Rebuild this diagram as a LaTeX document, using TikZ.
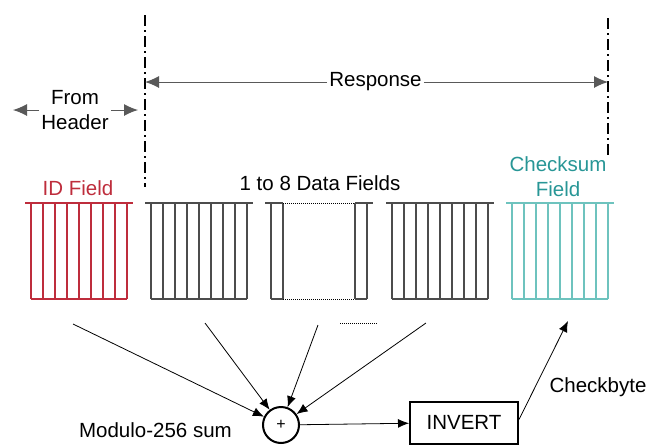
\documentclass[tikz,border=0pt]{standalone}
\usepackage{fontspec}
\setmainfont{Liberation Sans}
\usetikzlibrary{positioning,arrows.meta}
\definecolor{idred}{RGB}{190,45,60}
\definecolor{cktext}{RGB}{40,150,150}
\definecolor{ckline}{RGB}{110,195,190}
\tikzset{
  flowarrow/.style={-{Latex[length=11pt,width=9pt]}, line width=0.8pt},
  spanarrow/.style={-{Latex[length=14pt,width=12pt]}, line width=1pt, draw=black!65},
  boundary/.style={line width=2pt, dash pattern=on 11pt off 4pt on 2pt off 4pt},
  txt/.style={font=\fontsize{20.5}{25}\selectfont, inner sep=2pt, align=center},
  bitline/.style={line width=1.2pt},
  gapline/.style={line width=0.8pt, dash pattern=on 1pt off 1pt},
  sumnode/.style={draw, circle, line width=2pt, minimum size=36pt, inner sep=0pt, font=\fontsize{16}{16}\selectfont},
  blockbox/.style={draw, line width=2pt, minimum width=108pt, minimum height=42pt, txt}
}
% one byte: top rule, bottom rule and nine bit lines
\newcommand{\bytefield}[2]{%
  \draw[bitline,draw=#2] (#1-6,203) -- (#1+102,203);
  \draw[bitline,draw=#2] (#1,299) -- (#1+96,299);
  \foreach \k in {0,...,8} \draw[bitline,draw=#2] (#1+12*\k,203) -- (#1+12*\k,299);
}

\begin{document}
\begin{tikzpicture}[x=1pt, y=-1pt]
  \useasboundingbox (0,0) rectangle (649,445);

  % frame boundaries
  \coordinate (ltop) at (145,15);
  \coordinate (lbot) at (145,187);
  \coordinate (rtop) at (608,18);
  \coordinate (rbot) at (608,155);
  \draw[boundary] (ltop) -- (lbot);
  \draw[boundary] (rtop) -- (rbot);

  \node[txt] (resp) at (375.5,82) {Response};
  \coordinate (respl) at (145,82);
  \coordinate (respr) at (608,82);
  \draw[spanarrow] (resp.west) -- (respl);
  \draw[spanarrow] (resp.east) -- (respr);

  \node[txt] (hdr) at (75,110) {From\\Header};
  \coordinate (hdrl) at (13,110);
  \coordinate (hdrr) at (138,110);
  \draw[spanarrow] (hdr.west) -- (hdrl);
  \draw[spanarrow] (hdr.east) -- (hdrr);

  % fields
  \node[txt, text=idred] (idlab) at (78,188) {ID Field};
  \node[txt] (datalab) at (320,183) {1 to 8 Data Fields};
  \node[txt, text=cktext] (cklab) at (558,177) {Checksum\\Field};

  \bytefield{31}{idred}
  \bytefield{151}{black!70}
  \bytefield{392}{black!70}
  \bytefield{512}{ckline}

  \draw[bitline,black!70] (265,203) -- (283,203);
  \draw[bitline,black!70] (355,203) -- (373,203);
  \draw[bitline,black!70] (271,299) -- (283,299);
  \draw[bitline,black!70] (355,299) -- (367,299);
  \foreach \xb in {271,283,355,367} \draw[bitline,black!70] (\xb,203) -- (\xb,299);
  \draw[gapline] (283,203) -- (355,203);
  \draw[gapline] (283,299) -- (355,299);
  \draw[gapline] (340,323) -- (377,323);

  % checksum path
  \node[sumnode] (sum) at (281,425) {+};
  \node[txt, anchor=east] (modlab) at (234,430) {Modulo-256 sum};
  \node[blockbox] (inv) at (464,422.5) {INVERT};

  \coordinate (idout) at (73,324);
  \coordinate (d1out) at (205,323);
  \coordinate (d2out) at (318,325);
  \coordinate (d3out) at (426,323);
  \coordinate (ckin) at (568,321);

  \draw[flowarrow] (idout) -- (sum);
  \draw[flowarrow] (d1out) -- (sum);
  \draw[flowarrow] (d2out) -- (sum);
  \draw[flowarrow] (d3out) -- (sum);
  \draw[flowarrow] (sum) -- (inv);
  \draw[flowarrow] ([yshift=3pt]inv.east) -- (ckin);
  \node[txt] (cblab) at (598,387) {Checkbyte};
\end{tikzpicture}
\end{document}
